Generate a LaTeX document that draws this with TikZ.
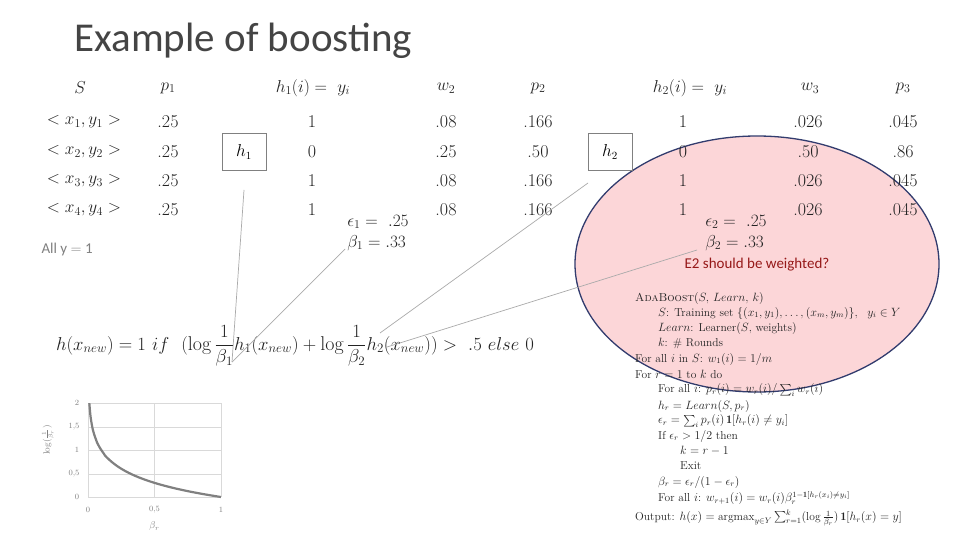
\documentclass[tikz,border=0pt]{standalone}
\usepackage{fontspec}
\usepackage{amsmath,amssymb}
\newfontfamily\carl{Carlito}
\definecolor{txt}{RGB}{35,35,35}
\definecolor{pinkfill}{RGB}{252,214,216}
\definecolor{ellborder}{RGB}{50,60,110}
\definecolor{darkred}{RGB}{150,25,25}
\definecolor{gline}{RGB}{170,170,170}
\begin{document}
\begin{tikzpicture}[x=1pt,y=-1pt,
  cell/.style={font=\fontsize{18}{21}\selectfont,text=txt,inner sep=0},
  alg/.style={font=\fontsize{11.5}{13}\selectfont,anchor=west,inner sep=0,text=txt},
  hbox/.style={draw=gray,thick,minimum width=44pt,minimum height=37pt,font=\fontsize{16}{18}\selectfont},
  conn/.style={draw=gline,line width=0.7pt},
  tick/.style={font=\fontsize{8}{9}\selectfont,text=gray}]
\useasboundingbox (0,0) rectangle (960,540);
\fill[white] (0,0) rectangle (960,540);
% ellipse
\filldraw[fill=pinkfill,draw=ellborder,line width=1.3pt] (757,264) ellipse [x radius=182, y radius=128];
% title
\node[anchor=west,font=\carl\fontsize{41}{45}\selectfont,text=txt!85] (title) at (71,41) {Example of boosting};
% header
\node[cell] (hS) at (80,88) {$S$};
\node[cell] (hp1) at (168,88) {$p_1$};
\node[cell] (hh1) at (313,88) {$h_1(i) =\ y_i$};
\node[cell] (hw2) at (446,88) {$w_2$};
\node[cell] (hp2) at (538,88) {$p_2$};
\node[cell] (hh2) at (690,88) {$h_2(i) =\ y_i$};
\node[cell] (hw3) at (810,88) {$w_3$};
\node[cell] (hp3) at (903,88) {$p_3$};
% rows
\foreach \i/\y/\h/\w/\p/\hh/\ww/\pp in {1/122/1/.08/.166/1/.026/.045, 2/152/0/.25/.50/0/.50/.86, 3/181/1/.08/.166/1/.026/.045, 4/210/1/.08/.166/1/.026/.045}{
  \node[cell] (s\i) at (84,\y) {$<x_{\i},y_{\i}>$};
  \node[cell] (pa\i) at (168,\y) {.25};
  \node[cell] (ha\i) at (312,\y) {\h};
  \node[cell] (wa\i) at (446,\y) {\w};
  \node[cell] (pb\i) at (538,\y) {\p};
  \node[cell] (hb\i) at (683,\y) {\hh};
  \node[cell] (wb\i) at (808,\y) {\ww};
  \node[cell] (pc\i) at (903,\y) {\pp};
}
\node[anchor=west,font=\carl\fontsize{15}{18}\selectfont,text=gray] (ally) at (38,249) {All y $=$ 1};
\node[hbox] (bh1) at (244,152) {$h_1$};
\node[hbox] (bh2) at (610,152) {$h_2$};
\node[cell,align=left] (eb1) at (378,233) {$\epsilon_1 =\ .25$\\$\beta_1 = .33$};
\node[cell,align=left] (eb2) at (736,233) {$\epsilon_2 =\ .25$\\$\beta_2 = .33$};
\node[font=\carl\fontsize{15}{18}\selectfont,text=darkred] (note) at (757,265) {E2 should be weighted?};
% formula
\node[cell,font=\fontsize{18.5}{22}\selectfont,scale=1.08] (form) at (295,346) {$h(x_{new}) = 1\ if\ \ (\log\dfrac{1}{\beta_1}h_1(x_{new}) + \log\dfrac{1}{\beta_2}h_2(x_{new})) >\ .5\ else\ 0$};
\coordinate (f1) at (232,362);
\coordinate (f2) at (380,333);
\coordinate (f3) at (387,347);
\coordinate (c1) at (244,190);
\coordinate (c2) at (588,183);
\coordinate (c3) at (345,249);
\coordinate (c4) at (697,250);
\draw[conn] (c1) -- (f1);
\draw[conn] (c3) -- (f1);
\draw[conn] (c2) -- (f2);
\draw[conn] (c4) -- (f3);
% algorithm
\node[alg] (a1) at (635,298) {\textsc{AdaBoost}$(S,\,Learn,\,k)$};
\node[alg] (a2) at (658,313) {$S$: Training set $\{(x_1,y_1),\ldots,(x_m,y_m)\},\ \ y_i\in Y$};
\node[alg] (a3) at (658,328) {$Learn$: Learner$(S$, weights$)$};
\node[alg] (a4) at (658,343) {$k$: \# Rounds};
\node[alg] (a5) at (635,359) {For all $i$ in $S$: $w_1(i)=1/m$};
\node[alg] (a6) at (635,374) {For $r=1$ to $k$ do};
\node[alg] (a7) at (658,390) {For all $i$: $p_r(i)=w_r(i)/\sum_i w_r(i)$};
\node[alg] (a8) at (658,406) {$h_r = Learn(S,p_r)$};
\node[alg] (a9) at (658,421) {$\epsilon_r=\sum_i p_r(i)\,\mathbf{1}[h_r(i)\neq y_i]$};
\node[alg] (a10) at (658,436) {If $\epsilon_r>1/2$ then};
\node[alg] (a11) at (680,451) {$k=r-1$};
\node[alg] (a12) at (680,466) {Exit};
\node[alg] (a13) at (658,482) {$\beta_r=\epsilon_r/(1-\epsilon_r)$};
\node[alg] (a14) at (658,498) {For all $i$: $w_{r+1}(i)=w_r(i)\beta_r^{1-\mathbf{1}[h_r(x_i)\neq y_i]}$};
\node[alg] (a15) at (635,518) {Output: $h(x)=\mathrm{argmax}_{y\in Y}\sum_{r=1}^{k}(\log\frac{1}{\beta_r})\,\mathbf{1}[h_r(x)=y]$};
% chart
\foreach \py in {403,427,450,474,497}{\draw[gray!30] (88,\py) -- (221,\py);}
\foreach \px in {88,154.5,221}{\draw[gray!30] (\px,403) -- (\px,497);}
\node[tick] (t0) at (77,497) {0};
\node[tick] (t1) at (74,474) {0,5};
\node[tick] (t2) at (77,450) {1};
\node[tick] (t3) at (74,427) {1,5};
\node[tick] (t4) at (77,403) {2};
\node[tick] (x0) at (88,510) {0};
\node[tick] (x1) at (154.5,510) {0,5};
\node[tick] (x2) at (221,510) {1};
\node[tick,font=\fontsize{10}{11}\selectfont] (xl) at (154.5,526) {$\beta_r$};
\node[tick,rotate=90,font=\fontsize{9}{10}\selectfont] (yl) at (48,440) {$\log(\frac{1}{\beta_r})$};
\draw[gray,line width=2.2pt,line join=round] plot[domain=0.01:1,samples=120,smooth] ({88+133*\x},{497+47*ln(\x)/ln(10)});
\end{tikzpicture}
\end{document}
